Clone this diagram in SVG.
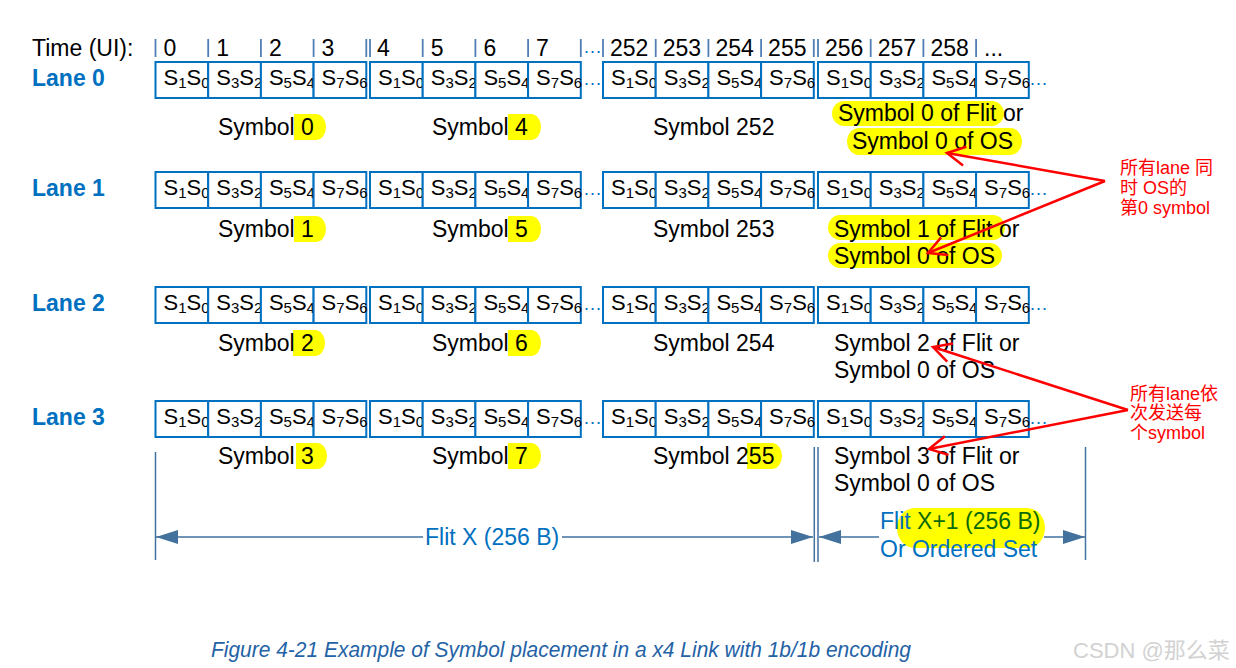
<svg xmlns="http://www.w3.org/2000/svg" width="1236" height="668" viewBox="0 0 1236 668">
<style>
text{font-family:"Liberation Sans",Arial,"Noto Sans CJK SC",sans-serif}
.t{font-size:23px;fill:#000}
.lane{font-size:23px;font-weight:bold;fill:#0070C0}
.c{font-size:22px;fill:#000}
.s{font-size:15px}
.cell{fill:#fff;stroke:#0070C0;stroke-width:2}
.tick{stroke:#4f7fb5;stroke-width:1.8}
.dots{font-size:19px;fill:#0070C0}
.hl{fill:#ffff00}
.red{font-size:18px;fill:#ff0000}
.redline{stroke:#ff0000;stroke-width:2.5;fill:none}
.dim{stroke:#41719C;stroke-width:1.5;fill:none}
.dimtxt{font-size:23px;fill:#0070C0}
</style>
<defs>
<marker id="redhead" markerUnits="userSpaceOnUse" orient="auto" overflow="visible" refX="0" refY="0" markerWidth="1" markerHeight="1">
<path d="M-18,-9.5 L0,0 L-18,9.5" fill="none" stroke="#ff0000" stroke-width="2.5"/>
</marker>
<marker id="dimhead" markerUnits="userSpaceOnUse" orient="auto-start-reverse" overflow="visible" refX="0" refY="0" markerWidth="1" markerHeight="1">
<path d="M0,0 L-22,-7 L-22,7 Z" fill="#41719C"/>
</marker>
<g id="cells">
<rect class="cell" x="0" y="0" width="52.7" height="36"/>
<text class="c" x="8" y="23">S<tspan class="s" dy="2.5">1</tspan><tspan dy="-2.5">S</tspan><tspan class="s" dy="2.5">0</tspan></text>
<rect class="cell" x="52.7" y="0" width="52.7" height="36"/>
<text class="c" x="60.7" y="23">S<tspan class="s" dy="2.5">3</tspan><tspan dy="-2.5">S</tspan><tspan class="s" dy="2.5">2</tspan></text>
<rect class="cell" x="105.4" y="0" width="52.7" height="36"/>
<text class="c" x="113.4" y="23">S<tspan class="s" dy="2.5">5</tspan><tspan dy="-2.5">S</tspan><tspan class="s" dy="2.5">4</tspan></text>
<rect class="cell" x="158.1" y="0" width="52.7" height="36"/>
<text class="c" x="166.1" y="23">S<tspan class="s" dy="2.5">7</tspan><tspan dy="-2.5">S</tspan><tspan class="s" dy="2.5">6</tspan></text>
</g>
</defs>
<rect width="1236" height="668" fill="#fff"/>

<g id="time-row">
<text class="t" x="32" y="56">Time (UI):</text>
<g class="tick">
<line x1="155.5" y1="39" x2="155.5" y2="57"/><line x1="208.2" y1="39" x2="208.2" y2="57"/><line x1="260.9" y1="39" x2="260.9" y2="57"/><line x1="313.6" y1="39" x2="313.6" y2="57"/><line x1="366.3" y1="39" x2="366.3" y2="57"/>
<line x1="370" y1="39" x2="370" y2="57"/><line x1="422.7" y1="39" x2="422.7" y2="57"/><line x1="475.4" y1="39" x2="475.4" y2="57"/><line x1="528.1" y1="39" x2="528.1" y2="57"/><line x1="580.8" y1="39" x2="580.8" y2="57"/>
<line x1="603" y1="39" x2="603" y2="57"/><line x1="655.7" y1="39" x2="655.7" y2="57"/><line x1="708.4" y1="39" x2="708.4" y2="57"/><line x1="761.1" y1="39" x2="761.1" y2="57"/><line x1="813.8" y1="39" x2="813.8" y2="57"/>
<line x1="818" y1="39" x2="818" y2="57"/><line x1="870.7" y1="39" x2="870.7" y2="57"/><line x1="923.4" y1="39" x2="923.4" y2="57"/><line x1="976.1" y1="39" x2="976.1" y2="57"/>
</g>
<text class="t" x="163.5" y="56">0</text><text class="t" x="216.2" y="56">1</text><text class="t" x="268.9" y="56">2</text><text class="t" x="321.6" y="56">3</text>
<text class="t" x="377" y="56">4</text><text class="t" x="430.7" y="56">5</text><text class="t" x="483.4" y="56">6</text><text class="t" x="536.1" y="56">7</text>
<text class="dots" x="583" y="53">…</text>
<text class="t" x="610" y="56">252</text><text class="t" x="662.7" y="56">253</text><text class="t" x="715.4" y="56">254</text><text class="t" x="768.1" y="56">255</text>
<text class="t" x="825" y="56">256</text><text class="t" x="877.7" y="56">257</text><text class="t" x="930.4" y="56">258</text><text class="t" x="984" y="56">...</text>
</g>

<g id="lane-0">
<text class="lane" x="32" y="86">Lane 0</text>
<use href="#cells" x="155.5" y="62"/><use href="#cells" x="370" y="62"/>
<text class="dots" x="583" y="85">…</text>
<use href="#cells" x="603" y="62"/><use href="#cells" x="818" y="62"/>
<text class="dots" x="1029" y="85">…</text>
<path class="hl" d="M294,114 H316 A10,13 0 0 1 316,140 H294 Z"/>
<path class="hl" d="M508,114 H531 A10,13 0 0 1 531,140 H508 Z"/>
<rect class="hl" x="832" y="101" width="172" height="25" rx="12" ry="12.5"/>
<rect class="hl" x="847" y="128" width="175" height="27" rx="12" ry="13.5"/>
<text class="t" x="218" y="135">Symbol 0</text>
<text class="t" x="432" y="135">Symbol 4</text>
<text class="t" x="653" y="135">Symbol 252</text>
<text class="t" x="838" y="121">Symbol 0 of Flit or</text>
<text class="t" x="852" y="149">Symbol 0 of OS</text>
</g>

<g id="lane-1">
<text class="lane" x="32" y="196">Lane 1</text>
<use href="#cells" x="155.5" y="172"/><use href="#cells" x="370" y="172"/>
<text class="dots" x="583" y="195">…</text>
<use href="#cells" x="603" y="172"/><use href="#cells" x="818" y="172"/>
<text class="dots" x="1029" y="195">…</text>
<path class="hl" d="M294,216 H316 A10,13 0 0 1 316,242 H294 Z"/>
<path class="hl" d="M508,216 H531 A10,13 0 0 1 531,242 H508 Z"/>
<rect class="hl" x="828" y="215" width="177" height="25" rx="12" ry="12.5"/>
<rect class="hl" x="828" y="243" width="174" height="25" rx="12" ry="12.5"/>
<text class="t" x="218" y="237">Symbol 1</text>
<text class="t" x="432" y="237">Symbol 5</text>
<text class="t" x="653" y="237">Symbol 253</text>
<text class="t" x="834" y="237">Symbol 1 of Flit or</text>
<text class="t" x="834" y="264">Symbol 0 of OS</text>
</g>

<g id="lane-2">
<text class="lane" x="32" y="311">Lane 2</text>
<use href="#cells" x="155.5" y="287"/><use href="#cells" x="370" y="287"/>
<text class="dots" x="583" y="310">…</text>
<use href="#cells" x="603" y="287"/><use href="#cells" x="818" y="287"/>
<text class="dots" x="1029" y="310">…</text>
<path class="hl" d="M293,330 H315 A10,13 0 0 1 315,356 H293 Z"/>
<path class="hl" d="M508,330 H531 A10,13 0 0 1 531,356 H508 Z"/>
<text class="t" x="218" y="351">Symbol 2</text>
<text class="t" x="432" y="351">Symbol 6</text>
<text class="t" x="653" y="351">Symbol 254</text>
<text class="t" x="834" y="351">Symbol 2 of Flit or</text>
<text class="t" x="834" y="378">Symbol 0 of OS</text>
</g>

<g id="lane-3">
<text class="lane" x="32" y="425">Lane 3</text>
<use href="#cells" x="155.5" y="401"/><use href="#cells" x="370" y="401"/>
<text class="dots" x="583" y="424">…</text>
<use href="#cells" x="603" y="401"/><use href="#cells" x="818" y="401"/>
<text class="dots" x="1029" y="424">…</text>
<path class="hl" d="M296,443 H317 A10,13 0 0 1 317,469 H296 Z"/>
<path class="hl" d="M508,443 H531 A10,13 0 0 1 531,469 H508 Z"/>
<path class="hl" d="M747,443 H772 A10,13 0 0 1 772,469 H747 Z"/>
<text class="t" x="218" y="464">Symbol 3</text>
<text class="t" x="432" y="464">Symbol 7</text>
<text class="t" x="653" y="464">Symbol 255</text>
<text class="t" x="834" y="464">Symbol 3 of Flit or</text>
<text class="t" x="834" y="491">Symbol 0 of OS</text>
</g>

<g id="note-1">
<text class="red" x="1120" y="174">所有lane 同</text>
<text class="red" x="1120" y="194">时 OS的</text>
<text class="red" x="1120" y="214">第0 symbol</text>
</g>
<g id="note-2">
<text class="red" x="1130" y="400">所有lane依</text>
<text class="red" x="1130" y="419">次发送每</text>
<text class="red" x="1130" y="439">个symbol</text>
</g>

<g id="dimension-flit-x">
<line class="dim" x1="155.5" y1="452" x2="155.5" y2="560"/>
<line class="dim" x1="814.3" y1="447" x2="814.3" y2="562"/>
<line class="dim" x1="156" y1="537" x2="813" y2="537" marker-start="url(#dimhead)" marker-end="url(#dimhead)"/>
<rect x="423" y="524" width="139" height="26" fill="#fff"/>
<text class="dimtxt" x="425" y="545">Flit X (256 B)</text>
</g>

<g id="dimension-flit-x1">
<line class="dim" x1="818" y1="447" x2="818" y2="562"/>
<line class="dim" x1="1085.5" y1="447" x2="1085.5" y2="560"/>
<line class="dim" x1="819" y1="537" x2="1085" y2="537" marker-start="url(#dimhead)" marker-end="url(#dimhead)"/>
<rect x="879" y="528" width="165" height="18" fill="#fff"/>
<rect class="hl" x="897" y="508" width="148" height="40" rx="18" ry="20"/>
<text class="dimtxt" x="880" y="529">Flit <tspan fill="#0a6a0a">X+1 (256 B)</tspan></text>
<text class="dimtxt" x="880" y="557">Or Ordered Set</text>
</g>

<g id="connectors">
<line class="redline" x1="1105" y1="181" x2="947" y2="153" marker-end="url(#redhead)"/>
<line class="redline" x1="1105" y1="181" x2="928" y2="253" marker-end="url(#redhead)"/>
<line class="redline" x1="1128" y1="410" x2="933" y2="347" marker-end="url(#redhead)"/>
<line class="redline" x1="1128" y1="410" x2="929" y2="449" marker-end="url(#redhead)"/>
</g>

<g id="caption">
<text x="211" y="657" font-size="22" font-style="italic" fill="#2462a6" textLength="700" lengthAdjust="spacingAndGlyphs">Figure 4-21 Example of Symbol placement in a x4 Link with 1b/1b encoding</text>
</g>
<g id="watermark">
<text x="1073" y="658" font-size="22" fill="#d2d2d2">CSDN @那么菜</text>
</g>
</svg>
